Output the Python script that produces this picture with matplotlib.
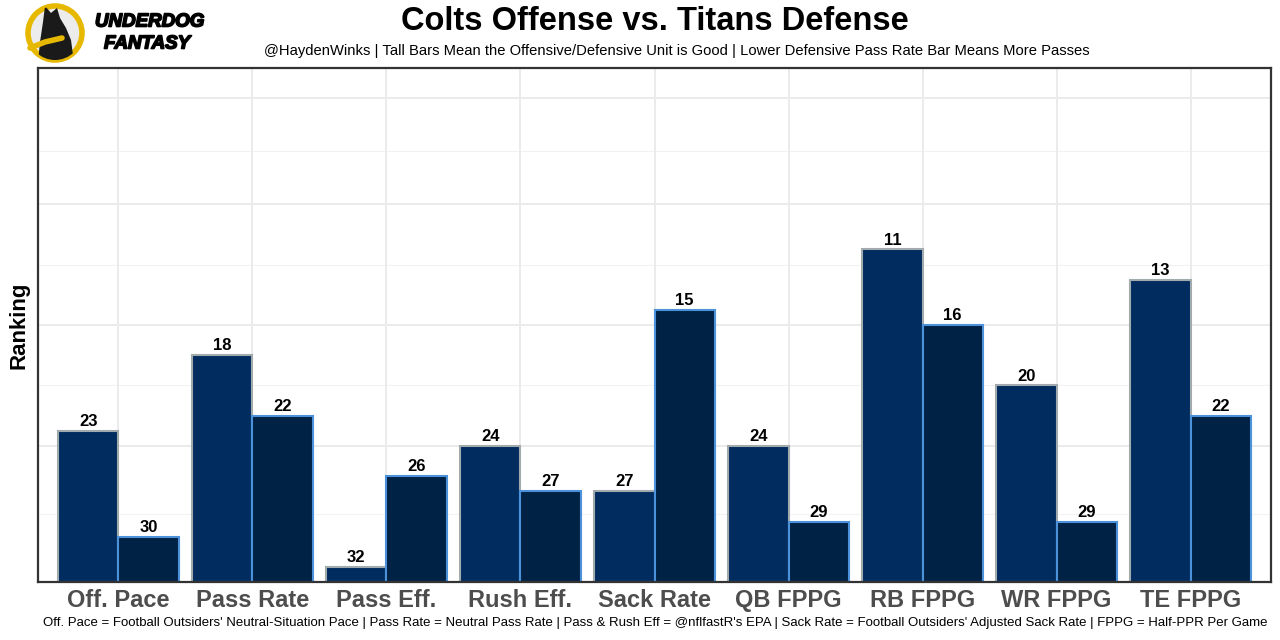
import matplotlib
matplotlib.use("Agg")
import matplotlib.pyplot as plt
import matplotlib.patheffects as pe
import numpy as np
from matplotlib.patches import Circle, Polygon

plt.rcParams['font.family'] = ['Liberation Sans', 'DejaVu Sans']

categories = ['Off. Pace', 'Pass Rate', 'Pass Eff.', 'Rush Eff.', 'Sack Rate',
              'QB FPPG', 'RB FPPG', 'WR FPPG', 'TE FPPG']
colts_offense = [23, 18, 32, 24, 27, 24, 11, 20, 13]
titans_defense = [30, 22, 26, 27, 15, 29, 16, 29, 22]

title = 'Colts Offense vs. Titans Defense'
subtitle = ('@HaydenWinks | Tall Bars Mean the Offensive/Defensive Unit is Good | '
            'Lower Defensive Pass Rate Bar Means More Passes')
caption = ("Off. Pace = Football Outsiders' Neutral-Situation Pace | Pass Rate = Neutral Pass Rate | "
           "Pass & Rush Eff = @nflfastR's EPA | Sack Rate = Football Outsiders' Adjusted Sack Rate | "
           "FPPG = Half-PPR Per Game")

n_teams = 33
major_ranks = [33, 24, 16, 8, 1]

fig = plt.figure(figsize=(12.8, 6.4), dpi=100)
ax = fig.add_axes([38 / 1280, 1 - 582 / 640, 1233 / 1280, 514 / 640])

x = np.arange(len(categories))
w = 0.45
off_h = [n_teams - r for r in colts_offense]
def_h = [n_teams - r for r in titans_defense]

# gridlines (ranks mapped to bar height)
major_y = [n_teams - r for r in major_ranks]
minor_y = [(a + b) / 2 for a, b in zip(major_y[:-1], major_y[1:])]
for y in major_y[1:]:
    ax.axhline(y, color='#ebebeb', lw=1.4, zorder=0)
for y in minor_y:
    ax.axhline(y, color='#f2f2f2', lw=0.8, zorder=0)
for xi in x:
    ax.axvline(xi, color='#ebebeb', lw=1.4, zorder=0)

ax.bar(x - w / 2, off_h, width=w, color='#002C5F', edgecolor='#A2AAAD', lw=1.5, zorder=2)
ax.bar(x + w / 2, def_h, width=w, color='#002244', edgecolor='#4B92DB', lw=1.5, zorder=2)

for xi, h, r in zip(x, off_h, colts_offense):
    ax.text(xi - w / 2, h + 0.12, str(r), ha='center', va='bottom',
            fontsize=12, fontweight='bold', color='black', zorder=3)
for xi, h, r in zip(x, def_h, titans_defense):
    ax.text(xi + w / 2, h + 0.12, str(r), ha='center', va='bottom',
            fontsize=12, fontweight='bold', color='black', zorder=3)

ax.set_xlim(-0.6, len(categories) - 0.4)
ax.set_ylim(0, 34)
ax.set_xticks(x)
ax.set_xticklabels(categories, fontsize=17, fontweight='bold', color='#4d4d4d')
ax.set_yticks([])
ax.tick_params(axis='x', length=0, pad=5)
ax.set_ylabel('Ranking', fontsize=16, fontweight='bold', labelpad=6)
for s in ax.spines.values():
    s.set_color('#333333')
    s.set_linewidth(1.6)

fig.text(655 / 1280, 1 - 21 / 640, title, ha='center', va='center',
         fontsize=23.5, fontweight='bold')
fig.text(677 / 1280, 1 - 51 / 640, subtitle, ha='center', va='center', fontsize=10.6)
fig.text(655 / 1280, 1 - 623 / 640, caption, ha='center', va='center', fontsize=9.5)

# logo
lg = fig.add_axes([0, 1 - 70.4 / 640, 204.8 / 1280, 70.4 / 640])
lg.set_xlim(0, 204.8)
lg.set_ylim(70.4, 0)
lg.axis('off')
ring = Circle((55, 33), 27, facecolor='#ececec', edgecolor='#e6b800', lw=4)
lg.add_patch(ring)
dog = Polygon([(38, 62), (40, 42), (43, 22), (45, 6), (51, 13), (57, 8), (60, 18),
               (66, 28), (71, 40), (73, 55), (68, 62)], closed=True,
              facecolor='#1a1a1a', edgecolor='none')
lg.add_patch(dog)
dog.set_clip_path(ring)
lg.plot([30, 45, 62], [48, 42, 38], color='#e6b800', lw=4, solid_capstyle='round')
thick = [pe.withStroke(linewidth=1.2, foreground='black')]
lg.text(95, 22, 'UNDERDOG', fontsize=13.5, fontweight='heavy', style='italic',
        va='center', ha='left', path_effects=thick)
lg.text(104, 44, 'FANTASY', fontsize=13.5, fontweight='heavy', style='italic',
        va='center', ha='left', path_effects=thick)

fig.savefig('out.png', dpi=100)
